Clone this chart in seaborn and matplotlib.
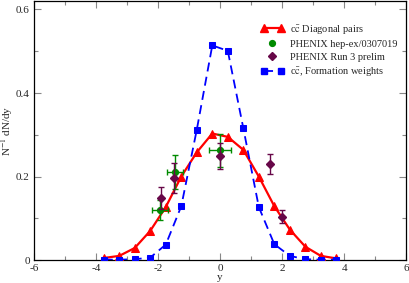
import numpy as np
import pandas as pd
import matplotlib
matplotlib.use("Agg")
import matplotlib.pyplot as plt
from matplotlib.lines import Line2D
from matplotlib.legend_handler import HandlerLine2D
import seaborn as sns

# ---- data ----
y_grid = [-3.75, -3.25, -2.75, -2.25, -1.75, -1.25, -0.75, -0.25,
          0.25, 0.75, 1.25, 1.75, 2.25, 2.75, 3.25, 3.75]
diag_pairs = [0.005, 0.010, 0.029, 0.070, 0.127, 0.200, 0.258, 0.303,
              0.295, 0.264, 0.200, 0.129, 0.073, 0.032, 0.010, 0.004]
formation = [0.001, 0.001, 0.002, 0.006, 0.037, 0.129, 0.312, 0.514,
             0.501, 0.316, 0.127, 0.038, 0.010, 0.002, 0.001, 0.001]

hep_x = [-1.93, -1.45, 0.0]
hep_y = [0.120, 0.210, 0.263]
hep_xerr = [0.26, 0.25, 0.35]
hep_yerr = [0.025, 0.041, 0.040]

run3_x = [-1.91, -1.49, 0.0, 1.61, 2.0]
run3_y = [0.148, 0.197, 0.250, 0.229, 0.104]
run3_yerr = [0.026, 0.036, 0.031, 0.024, 0.016]

x_ticks = [-6, -4, -2, 0, 2, 4, 6]
y_ticks = [0, 0.2, 0.4, 0.6]
y_tick_labels = ["0", "0.2", "0.4", "0.6"]

# ---- style ----
sns.set_style("ticks")
plt.rcParams["font.family"] = ["Liberation Serif", "DejaVu Serif"]
plt.rcParams["mathtext.fontset"] = "stix"
plt.rcParams["axes.unicode_minus"] = False

fig = plt.figure(figsize=(4.09, 2.83), dpi=100)
ax = fig.add_axes([0.083, 0.081, 0.910, 0.915])

df_diag = pd.DataFrame({"y": y_grid, "v": diag_pairs})
df_form = pd.DataFrame({"y": y_grid, "v": formation})

red = "#ff0000"
blue = "#0000ff"
green = "#008b00"
maroon = "#670748"

sns.lineplot(data=df_diag, x="y", y="v", ax=ax, color=red, lw=1.6,
             marker="^", markersize=6.3, markeredgecolor=red, zorder=3)
sns.lineplot(data=df_form, x="y", y="v", ax=ax, color=blue, lw=1.3,
             marker="s", markersize=4.3, markeredgecolor=blue, zorder=3,
             dashes=False, linestyle=(0, (5, 3)))

ax.errorbar(hep_x, hep_y, xerr=hep_xerr, yerr=hep_yerr, fmt="o", color=green,
            ms=4.2, capsize=2.5, elinewidth=1.0, capthick=1.0, zorder=4)
ax.errorbar(run3_x, run3_y, yerr=run3_yerr, fmt="D", color=maroon,
            ms=3.8, capsize=2.5, elinewidth=1.0, capthick=1.0, zorder=5)

ax.set_xlim(-6, 6)
ax.set_ylim(0, 0.62)
ax.set_xticks(x_ticks)
ax.set_xticklabels([str(t) for t in x_ticks])
ax.set_xticks(np.arange(-5, 6, 2), minor=True)
ax.set_yticks(y_ticks)
ax.set_yticklabels(y_tick_labels)
ax.set_yticks([0.1, 0.3, 0.5], minor=True)
ax.tick_params(which="both", direction="in", top=True, right=True,
               labelsize=8, color="#888888")
ax.tick_params(axis="x", pad=3)
ax.tick_params(axis="y", pad=3)
ax.tick_params(which="major", length=5, width=0.8)
ax.tick_params(which="minor", length=3, width=0.8)
for s in ax.spines.values():
    s.set_linewidth(0.9)
    s.set_color("black")

ax.set_xlabel("y", fontsize=8, labelpad=0)
ax.set_ylabel("N$^{-1}$ dN/dy", fontsize=8, labelpad=1)

h1 = Line2D([], [], color=red, lw=1.6, marker="^", ms=6.3)
h2 = Line2D([], [], color=green, lw=0, marker="o", ms=4.2)
h3 = Line2D([], [], color=maroon, lw=0, marker="D", ms=3.8)
h4 = Line2D([], [], color=blue, lw=1.3, ls=(0, (5, 3)), marker="s", ms=4.3)
leg = ax.legend([h1, h2, h3, h4],
                [r"c$\bar{\mathrm{c}}$ Diagonal pairs", "PHENIX hep-ex/0307019",
                 "PHENIX Run 3 prelim", r"c$\bar{\mathrm{c}}$, Formation weights"],
                loc="upper left", bbox_to_anchor=(0.59, 0.945), frameon=False,
                fontsize=7.5, numpoints=2, handlelength=2.2, handletextpad=0.6,
                labelspacing=0.35, borderpad=0.2,
                handler_map={h2: HandlerLine2D(numpoints=1),
                             h3: HandlerLine2D(numpoints=1)})

sns.despine(ax=ax, top=False, right=False)
fig.savefig("out.png", dpi=100)
